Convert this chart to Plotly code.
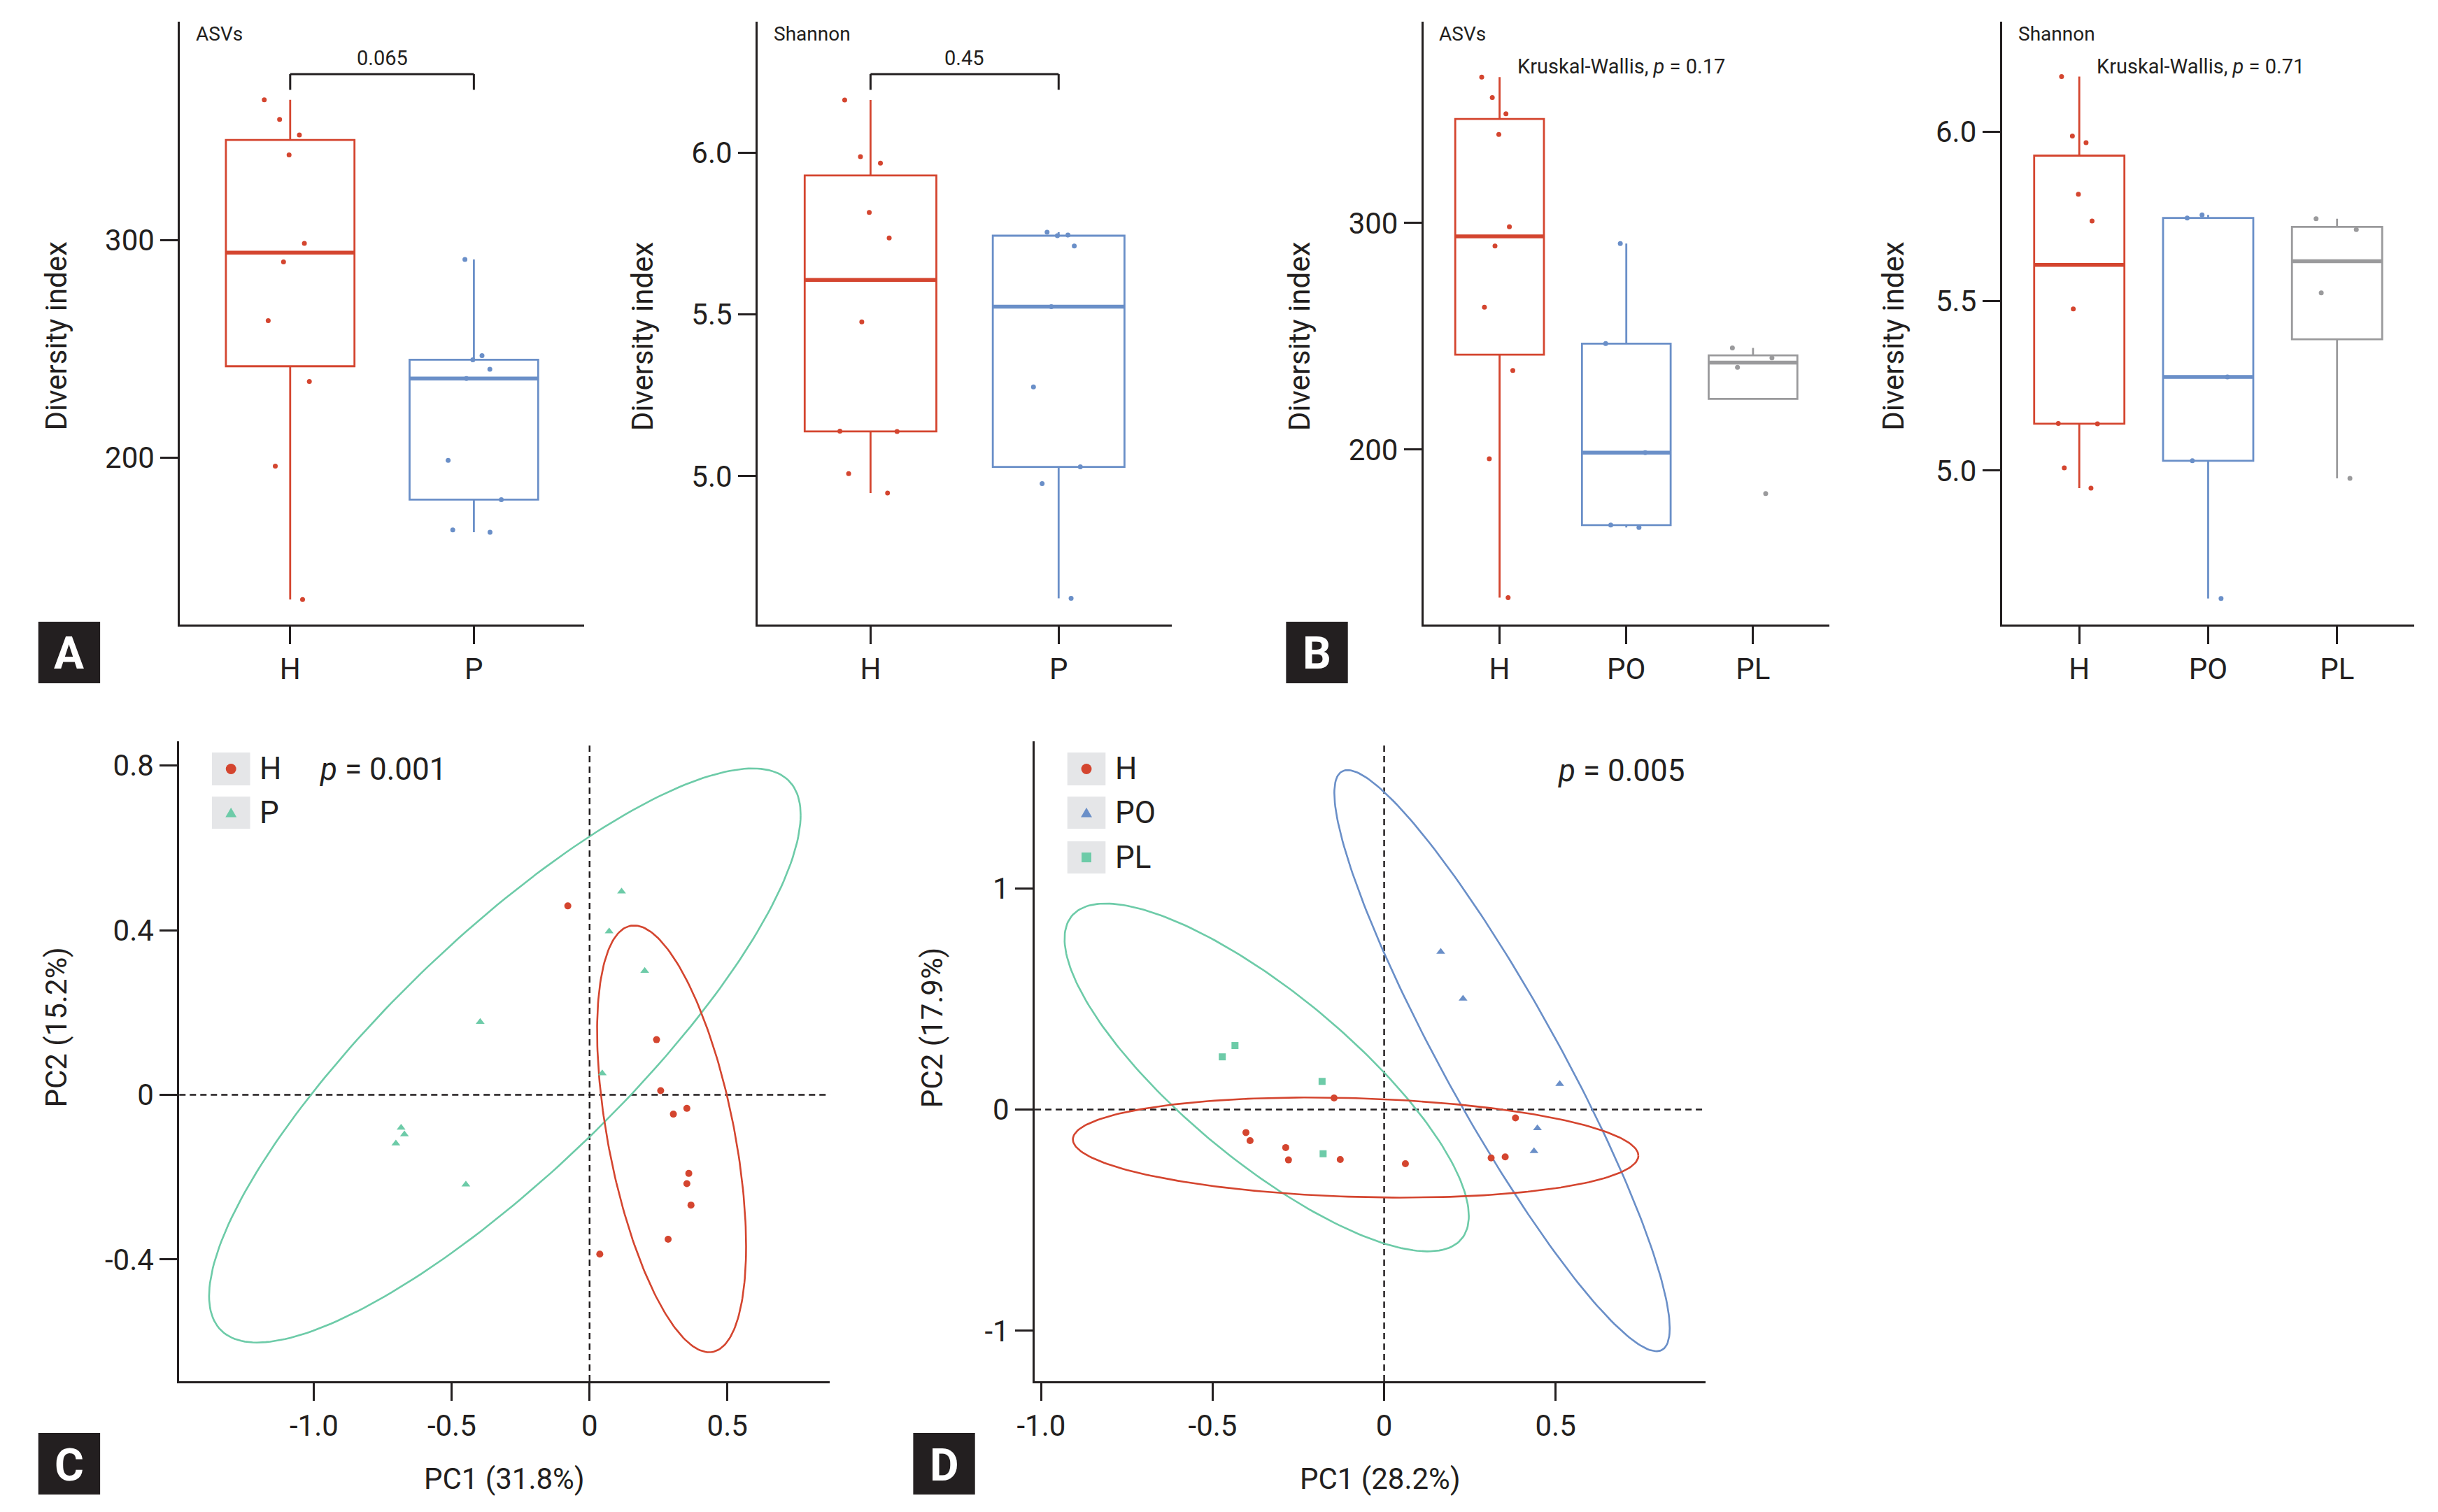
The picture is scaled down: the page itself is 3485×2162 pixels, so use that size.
import numpy as np
import plotly.graph_objects as go

# ---------------- data ----------------
groups_2 = ["H", "P"]
groups_3 = ["H", "PO", "PL"]

asv_H = [364.4, 355.4, 348.2, 339.1, 298.4, 289.9, 262.9, 234.9, 196.0, 134.7]
asv_PO = [291.0, 246.8, 198.7, 166.7, 165.6]
asv_PL = [244.9, 240.5, 236.3, 180.6]

sh_H = [6.162, 5.987, 5.967, 5.815, 5.736, 5.477, 5.139, 5.138, 5.008, 4.948]
sh_PO = [5.754, 5.745, 5.276, 5.029, 4.623]
sh_PL = [5.743, 5.711, 5.524, 4.977]

asv_P = asv_PO + asv_PL
sh_P = sh_PO + sh_PL

asv_ticks = [200, 300]
asv_ticktext = ["200", "300"]
sh_ticks = [5.0, 5.5, 6.0]
sh_ticktext = ["5.0", "5.5", "6.0"]

p_A = ["0.065", "0.45"]
p_B = ["0.17", "0.71"]

# PCA panel C
pcC_H_x = [-0.079, 0.243, 0.258, 0.304, 0.353, 0.360, 0.353, 0.368, 0.285, 0.037]
pcC_H_y = [0.459, 0.134, 0.010, -0.047, -0.033, -0.191, -0.216, -0.268, -0.351, -0.387]
pcC_P_x = [0.116, 0.071, 0.200, -0.397, 0.046, -0.684, -0.672, -0.703, -0.449]
pcC_P_y = [0.494, 0.397, 0.301, 0.177, 0.052, -0.080, -0.096, -0.118, -0.218]

# PCA panel D
pcD_H_x = [-0.146, -0.403, -0.391, -0.287, -0.279, -0.128, 0.062, 0.383, 0.312, 0.353]
pcD_H_y = [0.052, -0.104, -0.141, -0.172, -0.228, -0.226, -0.245, -0.038, -0.219, -0.214]
pcD_PO_x = [0.165, 0.230, 0.512, 0.447, 0.437]
pcD_PO_y = [0.713, 0.501, 0.115, -0.085, -0.188]
pcD_PL_x = [-0.472, -0.435, -0.181, -0.178]
pcD_PL_y = [0.238, 0.289, 0.127, -0.200]

pcC_xticks = [-1.0, -0.5, 0, 0.5]
pcC_xticktext = ["-1.0", "-0.5", "0", "0.5"]
pcC_yticks = [-0.4, 0, 0.4, 0.8]
pcC_yticktext = ["-0.4", "0", "0.4", "0.8"]
pcD_xticks = [-1.0, -0.5, 0, 0.5]
pcD_xticktext = ["-1.0", "-0.5", "0", "0.5"]
pcD_yticks = [-1, 0, 1]
pcD_yticktext = ["-1", "0", "1"]

# ---------------- style ----------------
RED = "#D4452F"
BLUE = "#6A8FC8"
GREY = "#9A9A9C"
TEAL = "#6DCBA8"
INK = "#231F20"
FONT = "Roboto"
W, H = 3485, 2162


def X(px):
    return px / W


def Y(py):
    return 1 - py / H


def box_stats(v):
    v = np.asarray(v, dtype=float)
    q1, med, q3 = np.percentile(v, [25, 50, 75])
    iqr = q3 - q1
    lo = v[v >= q1 - 1.5 * iqr].min()
    hi = v[v <= q3 + 1.5 * iqr].max()
    return q1, med, q3, min(lo, q1), max(hi, q3)


def cov_trob(M, nu=5, maxit=25, tol=0.01):
    n, p = M.shape
    wt = np.ones(n)
    loc = M.mean(axis=0)
    w = np.sqrt(wt)
    Xc = M - loc
    for _ in range(maxit):
        w0 = w
        Xc = M - loc
        sw = np.sqrt(w / w.sum())
        _, d, Vt = np.linalg.svd(sw[:, None] * Xc, full_matrices=False)
        wX = Xc @ Vt.T @ np.diag(1.0 / d)
        Q = (wX ** 2).sum(axis=1)
        w = (wt * (nu + p)) / (nu + Q)
        loc = (w[:, None] * M).sum(axis=0) / w.sum()
        if np.all(np.abs(w - w0) < tol):
            break
    sX = np.sqrt(w)[:, None] * Xc
    cov = sX.T @ sX / wt.sum()
    return cov, loc


def ellipse(xs, ys, level=0.95, seg=240):
    M = np.column_stack([xs, ys]).astype(float)
    cov, ctr = cov_trob(M)
    d = len(xs) - 1
    fq = (d / 2.0) * ((1 - level) ** (-2.0 / d) - 1)
    r = np.sqrt(2 * fq)
    L = np.linalg.cholesky(cov)
    t = np.linspace(0, 2 * np.pi, seg + 1)
    circ = np.column_stack([np.cos(t), np.sin(t)])
    e = ctr + r * circ @ L.T
    return e[:, 0], e[:, 1]


fig = go.Figure()


def add_box_group(i, vals, col, xa, ya):
    q1, med, q3, lf, uf = box_stats(vals)
    fig.add_trace(go.Box(x=[i], q1=[q1], median=[med], q3=[q3], lowerfence=[lf], upperfence=[uf],
                         width=0.7, whiskerwidth=0, fillcolor="white", boxpoints=False,
                         line=dict(color=col, width=2.8), xaxis=xa, yaxis=ya, showlegend=False,
                         hoverinfo="skip"))
    fig.add_trace(go.Box(x=[i], q1=[med], median=[med], q3=[med], lowerfence=[med], upperfence=[med],
                         width=0.7, whiskerwidth=0, fillcolor="rgba(0,0,0,0)", boxpoints=False,
                         line=dict(color=col, width=5.5), xaxis=xa, yaxis=ya, showlegend=False,
                         hoverinfo="skip"))
    fig.add_trace(go.Box(x=[i] * len(vals), y=vals, width=0.7, boxpoints="all", jitter=0.55, pointpos=0,
                         whiskerwidth=0, fillcolor="rgba(0,0,0,0)",
                         line=dict(color="rgba(0,0,0,0)", width=0),
                         marker=dict(color=col, size=7), xaxis=xa, yaxis=ya, showlegend=False))


# Panel A
for i, (vals, col) in enumerate(zip([asv_H, asv_P], [RED, BLUE])):
    add_box_group(i, vals, col, "x", "y")
for i, (vals, col) in enumerate(zip([sh_H, sh_P], [RED, BLUE])):
    add_box_group(i, vals, col, "x2", "y2")
# Panel B
for i, (vals, col) in enumerate(zip([asv_H, asv_PO, asv_PL], [RED, BLUE, GREY])):
    add_box_group(i, vals, col, "x3", "y3")
for i, (vals, col) in enumerate(zip([sh_H, sh_PO, sh_PL], [RED, BLUE, GREY])):
    add_box_group(i, vals, col, "x4", "y4")

# Panel C (PCA)
for xs, ys, col in [(pcC_P_x, pcC_P_y, TEAL), (pcC_H_x, pcC_H_y, RED)]:
    ex, ey = ellipse(xs, ys)
    fig.add_trace(go.Scatter(x=ex, y=ey, mode="lines", line=dict(color=col, width=2.6),
                             xaxis="x5", yaxis="y5", showlegend=False, hoverinfo="skip"))
fig.add_trace(go.Scatter(x=pcC_H_x, y=pcC_H_y, mode="markers",
                         marker=dict(color=RED, size=10, symbol="circle"),
                         xaxis="x5", yaxis="y5", showlegend=False))
fig.add_trace(go.Scatter(x=pcC_P_x, y=pcC_P_y, mode="markers",
                         marker=dict(color=TEAL, size=11, symbol="triangle-up"),
                         xaxis="x5", yaxis="y5", showlegend=False))

# Panel D (PCA)
for xs, ys, col in [(pcD_PL_x, pcD_PL_y, TEAL), (pcD_PO_x, pcD_PO_y, BLUE), (pcD_H_x, pcD_H_y, RED)]:
    ex, ey = ellipse(xs, ys)
    fig.add_trace(go.Scatter(x=ex, y=ey, mode="lines", line=dict(color=col, width=2.6),
                             xaxis="x6", yaxis="y6", showlegend=False, hoverinfo="skip"))
fig.add_trace(go.Scatter(x=pcD_H_x, y=pcD_H_y, mode="markers",
                         marker=dict(color=RED, size=10, symbol="circle"),
                         xaxis="x6", yaxis="y6", showlegend=False))
fig.add_trace(go.Scatter(x=pcD_PO_x, y=pcD_PO_y, mode="markers",
                         marker=dict(color=BLUE, size=11, symbol="triangle-up"),
                         xaxis="x6", yaxis="y6", showlegend=False))
fig.add_trace(go.Scatter(x=pcD_PL_x, y=pcD_PL_y, mode="markers",
                         marker=dict(color=TEAL, size=10, symbol="square"),
                         xaxis="x6", yaxis="y6", showlegend=False))

# ---------------- axes ----------------
axis_common = dict(showline=True, linecolor=INK, linewidth=3, ticks="outside", ticklen=25,
                   tickwidth=3, tickcolor=INK, showgrid=False, zeroline=False,
                   tickfont=dict(size=42, color=INK, family=FONT), fixedrange=True)

top_y = [Y(893), Y(31)]
bot_y = [Y(1975), Y(1060)]

layout_axes = {
    "xaxis": dict(domain=[X(233), X(815)], range=[-0.6, 1.6], tickvals=[0, 1], ticktext=groups_2, anchor="y"),
    "yaxis": dict(domain=top_y, range=[123.2, 400.3], tickvals=asv_ticks, ticktext=asv_ticktext, anchor="x"),
    "xaxis2": dict(domain=[X(1065), X(1661)], range=[-0.6, 1.6], tickvals=[0, 1], ticktext=groups_2, anchor="y2"),
    "yaxis2": dict(domain=top_y, range=[4.542, 6.404], tickvals=sh_ticks, ticktext=sh_ticktext, anchor="x2"),
    "xaxis3": dict(domain=[X(2024), X(2608)], range=[-0.6, 2.6], tickvals=[0, 1, 2], ticktext=groups_3, anchor="y3"),
    "yaxis3": dict(domain=top_y, range=[122.8, 388.9], tickvals=asv_ticks, ticktext=asv_ticktext, anchor="x3"),
    "xaxis4": dict(domain=[X(2857), X(3451)], range=[-0.6, 2.6], tickvals=[0, 1, 2], ticktext=groups_3, anchor="y4"),
    "yaxis4": dict(domain=top_y, range=[4.546, 6.324], tickvals=sh_ticks, ticktext=sh_ticktext, anchor="x4"),
    "xaxis5": dict(domain=[X(232), X(1169)], range=[-1.489, 0.872], tickvals=pcC_xticks, ticktext=pcC_xticktext, anchor="y5"),
    "yaxis5": dict(domain=bot_y, range=[-0.696, 0.859], tickvals=pcC_yticks, ticktext=pcC_yticktext, anchor="x5"),
    "xaxis6": dict(domain=[X(1464), X(2430)], range=[-1.019, 0.937], tickvals=pcD_xticks, ticktext=pcD_xticktext, anchor="y6"),
    "yaxis6": dict(domain=bot_y, range=[-1.228, 1.664], tickvals=pcD_yticks, ticktext=pcD_yticktext, anchor="x6"),
}
for k, v in layout_axes.items():
    d = dict(axis_common)
    d.update(v)
    layout_axes[k] = d

fig.update_layout(width=W, height=H, margin=dict(l=0, r=0, t=0, b=0),
                  paper_bgcolor="white", plot_bgcolor="white",
                  font=dict(family=FONT, color=INK), boxmode="overlay", showlegend=False,
                  **layout_axes)

# ---------------- annotations & shapes ----------------
ann = []
shapes = []


def text(x, y, s, size, xanchor="left", yanchor="middle", angle=0, color=INK, bold=False, xref="paper", yref="paper"):
    ann.append(dict(x=x, y=y, xref=xref, yref=yref, text=("<b>%s</b>" % s) if bold else s, showarrow=False,
                    xanchor=xanchor, yanchor=yanchor, textangle=angle,
                    font=dict(size=size, color=color, family=FONT)))


# small facet titles
text(X(254), Y(48), "ASVs", 28)
text(X(1086), Y(48), "Shannon", 28)
text(X(2044), Y(48), "ASVs", 28)
text(X(2878), Y(48), "Shannon", 28)

# brackets in A
for xa, ya, lab in [("x", "y", p_A[0]), ("x2", "y2", p_A[1])]:
    for (x0, y0, x1, y1) in [(0, 0.887, 0, 0.913), (0, 0.913, 1, 0.913), (1, 0.913, 1, 0.887)]:
        shapes.append(dict(type="line", xref=xa, yref=ya + " domain", x0=x0, x1=x1, y0=y0, y1=y1,
                           line=dict(color=INK, width=3)))
    text(0.5, 0.94, lab, 29, xanchor="center", xref=xa, yref=ya + " domain")

# Kruskal-Wallis
text(X(2157), Y(95), "Kruskal-Wallis, <i>p</i> = %s" % p_B[0], 29)
text(X(2991), Y(95), "Kruskal-Wallis, <i>p</i> = %s" % p_B[1], 29)

# y titles of diversity panels
for xc in [54, 899, 1845, 2700]:
    text(X(xc), Y(481), "Diversity index", 42, xanchor="center", angle=-90)

# PCA axis titles
text(X(700), Y(2114), "PC1 (31.8%)", 42, xanchor="center")
text(X(54), Y(1469), "PC2 (15.2%)", 42, xanchor="center", angle=-90)
text(X(1962), Y(2114), "PC1 (28.2%)", 42, xanchor="center")
text(X(1316), Y(1469), "PC2 (17.9%)", 42, xanchor="center", angle=-90)

# p values in PCA
text(X(432), Y(1100), "<i>p</i> = 0.001", 44)
text(X(2402), Y(1102), "<i>p</i> = 0.005", 44, xanchor="right")

# dashed zero lines
for xa, ya in [("x5", "y5"), ("x6", "y6")]:
    shapes.append(dict(type="line", xref=xa, yref=ya + " domain", x0=0, x1=0, y0=0, y1=1, layer="below",
                       line=dict(color=INK, width=2.5, dash="9px,6px")))
    shapes.append(dict(type="line", xref=xa + " domain", yref=ya, x0=0, x1=1, y0=0, y1=0, layer="below",
                       line=dict(color=INK, width=2.5, dash="9px,6px")))


# legend keys (manual)
def key_box(x0, x1, y0, y1):
    shapes.append(dict(type="rect", xref="paper", yref="paper", x0=X(x0), x1=X(x1), y0=Y(y1), y1=Y(y0),
                       fillcolor="#E5E6E8", line=dict(width=0)))


def key_circle(cx, cy, r, col):
    shapes.append(dict(type="circle", xref="paper", yref="paper", x0=X(cx - r), x1=X(cx + r),
                       y0=Y(cy + r), y1=Y(cy - r), fillcolor=col, line=dict(width=0)))


def key_tri(cx, cy, s, col):
    p = "M %f %f L %f %f L %f %f Z" % (X(cx - s), Y(cy + s * 0.8), X(cx + s), Y(cy + s * 0.8), X(cx), Y(cy - s * 0.9))
    shapes.append(dict(type="path", xref="paper", yref="paper", path=p, fillcolor=col, line=dict(width=0)))


def key_sq(cx, cy, s, col):
    shapes.append(dict(type="rect", xref="paper", yref="paper", x0=X(cx - s), x1=X(cx + s),
                       y0=Y(cy + s), y1=Y(cy - s), fillcolor=col, line=dict(width=0)))


key_box(279, 334, 1076, 1123)
key_box(279, 334, 1139, 1185)
key_circle(306.5, 1099.5, 7.5, RED)
key_tri(306.5, 1162, 8, TEAL)
text(X(346), Y(1099), "H", 44)
text(X(346), Y(1162), "P", 44)

key_box(1511, 1566, 1076, 1123)
key_box(1511, 1566, 1139, 1185)
key_box(1511, 1566, 1203, 1249)
key_circle(1538.5, 1099.5, 7.5, RED)
key_tri(1538.5, 1162, 8, BLUE)
key_sq(1538.5, 1226, 7, TEAL)
text(X(1578), Y(1099), "H", 44)
text(X(1578), Y(1162), "PO", 44)
text(X(1578), Y(1226), "PL", 44)

# panel letters
for lab, x0, y0 in [("A", 29, 889), ("B", 1826, 889), ("C", 29, 2049), ("D", 1289, 2049)]:
    shapes.append(dict(type="rect", xref="paper", yref="paper", x0=X(x0), x1=X(x0 + 89),
                       y0=Y(y0 + 88), y1=Y(y0), fillcolor=INK, line=dict(width=0)))
    text(X(x0 + 44.5), Y(y0 + 46), lab, 64, xanchor="center", color="white", bold=True)

fig.update_layout(annotations=ann, shapes=shapes)
fig.write_html("out.html", config={"displayModeBar": False},
               post_script="document.body.style.margin='0';document.body.style.overflow='hidden';")
